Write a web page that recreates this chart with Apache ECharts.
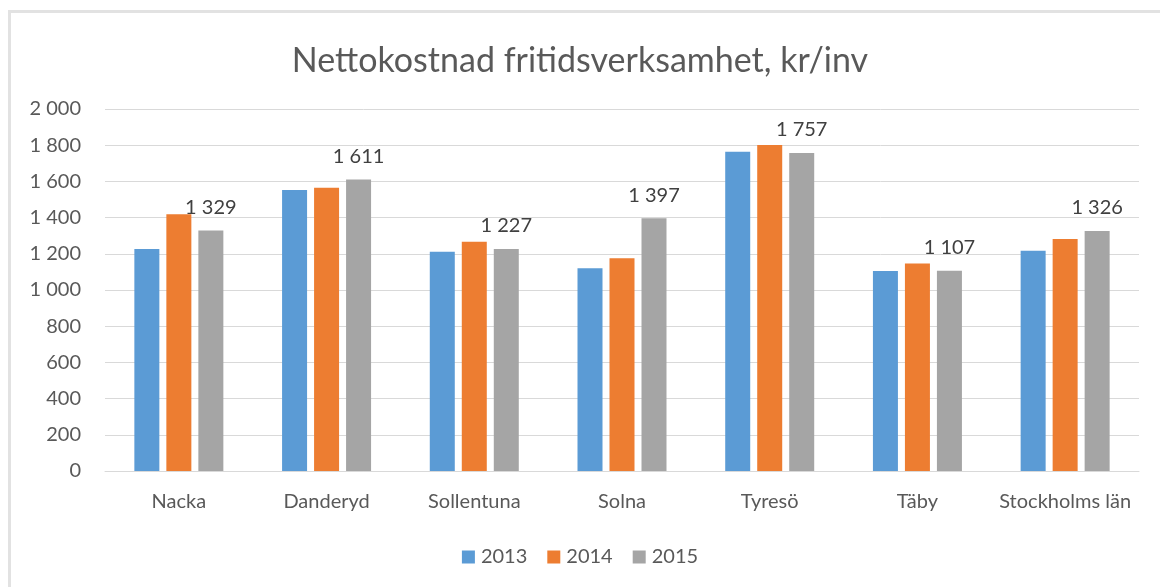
<!DOCTYPE html>
<html>
<head>
<meta charset="utf-8">
<script src="https://cdn.jsdelivr.net/npm/echarts@6/dist/echarts.min.js"></script>
<style>
  html, body { margin: 0; padding: 0; background: #fff; }
  #chart { width: 1160px; height: 587px; }
</style>
</head>
<body>
<div id="chart"></div>
<script>
const categories = ['Nacka', 'Danderyd', 'Sollentuna', 'Solna', 'Tyresö', 'Täby', 'Stockholms län']
const years = ['2013', '2014', '2015']
const values2013 = [1226, 1552, 1212, 1120, 1764, 1105, 1217]
const values2014 = [1418, 1565, 1267, 1175, 1801, 1147, 1282]
const values2015 = [1329, 1611, 1227, 1397, 1757, 1107, 1326]
const colors = ['#5B9BD5', '#ED7D31', '#A5A5A5']

// swedish style thousands: "1 329"
function spaced (v) {
  return String(v).replace(/\B(?=(\d{3})+(?!\d))/g, ' ')
}

const font = 'Lato, "Open Sans", sans-serif'
const chart = echarts.init(document.getElementById('chart'))

chart.setOption({
  backgroundColor: '#fff',
  color: colors,
  animation: false,
  textStyle: { fontFamily: font },
  graphic: [{
    type: 'rect',
    shape: { x: 9.5, y: 11.5, width: 1300, height: 800 },
    style: { fill: null, stroke: '#e2e2e2', lineWidth: 3 },
    silent: true
  }],
  title: {
    text: 'Nettokostnad fritidsverksamhet, kr/inv',
    left: 'center',
    top: 39,
    textStyle: { fontFamily: font, fontSize: 34, fontWeight: 'normal', color: '#595959' }
  },
  legend: {
    data: years,
    left: 'center',
    top: 542,
    itemWidth: 13,
    itemHeight: 13,
    itemGap: 20,
    icon: 'rect',
    textStyle: { fontFamily: font, fontSize: 20, color: '#595959', padding: [0, 0, 0, 1] }
  },
  grid: {
    left: 105,
    right: 21,
    top: 109,
    bottom: 116,
    containLabel: false
  },
  xAxis: {
    type: 'category',
    data: categories,
    axisTick: { show: false },
    axisLine: { lineStyle: { color: '#d9d9d9', width: 1 } },
    axisLabel: { fontFamily: font, fontSize: 20, color: '#595959', margin: 21, interval: 0 }
  },
  yAxis: {
    type: 'value',
    min: 0,
    max: 2000,
    interval: 200,
    axisLine: { show: false },
    axisTick: { show: false },
    splitLine: { lineStyle: { color: '#d9d9d9', width: 1 } },
    axisLabel: {
      fontFamily: font,
      fontSize: 20,
      color: '#595959',
      margin: 24,
      formatter: spaced
    }
  },
  series: [
    {
      name: years[0],
      type: 'bar',
      data: values2013,
      barWidth: 25,
      barGap: '28%'
    },
    {
      name: years[1],
      type: 'bar',
      data: values2014,
      barWidth: 25,
      barGap: '28%'
    },
    {
      name: years[2],
      type: 'bar',
      data: values2015,
      barWidth: 25,
      barGap: '28%',
      label: {
        show: true,
        position: 'top',
        distance: 13,
        fontFamily: font,
        fontSize: 20,
        color: '#404040',
        formatter: p => spaced(p.value)
      }
    }
  ]
})
</script>
</body>
</html>
